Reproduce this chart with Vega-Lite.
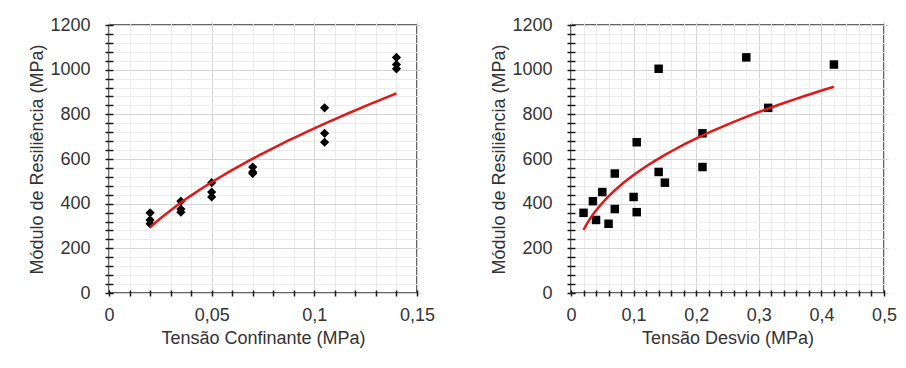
{
  "$schema": "https://vega.github.io/schema/vega-lite/v6.json",
  "padding": {"left": 28, "top": 15, "right": 5, "bottom": 5},
  "background": "white",
  "spacing": 54,
  "datasets": {
    "mr": [
      {"sigma3": 0.02, "sigmad": 0.02, "Mr": 359},
      {"sigma3": 0.02, "sigmad": 0.04, "Mr": 327},
      {"sigma3": 0.02, "sigmad": 0.06, "Mr": 310},
      {"sigma3": 0.035, "sigmad": 0.035, "Mr": 411},
      {"sigma3": 0.035, "sigmad": 0.07, "Mr": 376},
      {"sigma3": 0.035, "sigmad": 0.105, "Mr": 362},
      {"sigma3": 0.05, "sigmad": 0.05, "Mr": 452},
      {"sigma3": 0.05, "sigmad": 0.1, "Mr": 430},
      {"sigma3": 0.05, "sigmad": 0.15, "Mr": 494},
      {"sigma3": 0.07, "sigmad": 0.07, "Mr": 535},
      {"sigma3": 0.07, "sigmad": 0.14, "Mr": 542},
      {"sigma3": 0.07, "sigmad": 0.21, "Mr": 564},
      {"sigma3": 0.105, "sigmad": 0.105, "Mr": 675},
      {"sigma3": 0.105, "sigmad": 0.21, "Mr": 715},
      {"sigma3": 0.105, "sigmad": 0.315, "Mr": 829},
      {"sigma3": 0.14, "sigmad": 0.14, "Mr": 1004},
      {"sigma3": 0.14, "sigmad": 0.28, "Mr": 1055},
      {"sigma3": 0.14, "sigmad": 0.42, "Mr": 1023}
    ]
  },
  "hconcat": [
    {
      "width": 308,
      "height": 268,
      "data": {"name": "mr"},
      "layer": [
        {
          "mark": {"type": "point", "shape": "diamond", "filled": true, "color": "black", "size": 85, "opacity": 1},
          "encoding": {
            "x": {"field": "sigma3", "type": "quantitative"},
            "y": {"field": "Mr", "type": "quantitative"}
          }
        },
        {
          "transform": [{"regression": "Mr", "on": "sigma3", "method": "pow"}],
          "mark": {"type": "line", "color": "#e01818", "strokeWidth": 2.5},
          "encoding": {
            "x": {"field": "sigma3", "type": "quantitative"},
            "y": {"field": "Mr", "type": "quantitative"}
          }
        }
      ],
      "encoding": {
        "x": {
          "field": "sigma3", "type": "quantitative",
          "scale": {"domain": [0, 0.15], "nice": false},
          "axis": {
            "title": "Tensão Confinante (MPa)",
            "values": [0, 0.01, 0.02, 0.03, 0.04, 0.05, 0.06, 0.07, 0.08, 0.09, 0.1, 0.11, 0.12, 0.13, 0.14, 0.15],
            "labelExpr": "round(datum.value*100) % 5 === 0 ? replace(toString(datum.value), '.', ',') : ''",
            "gridColor": {"condition": {"test": "round(datum.value*100) % 5 === 0", "value": "#d4d4d4"}, "value": "#ececec"}
          }
        },
        "y": {
          "field": "Mr", "type": "quantitative",
          "scale": {"domain": [0, 1200], "nice": false},
          "axis": {
            "title": "Módulo de Resiliência (MPa)",
            "values": [0, 40, 80, 120, 160, 200, 240, 280, 320, 360, 400, 440, 480, 520, 560, 600, 640, 680, 720, 760, 800, 840, 880, 920, 960, 1000, 1040, 1080, 1120, 1160, 1200],
            "labelExpr": "datum.value % 200 === 0 ? toString(datum.value) : ''",
            "gridColor": {"condition": {"test": "datum.value % 200 === 0", "value": "#d4d4d4"}, "value": "#ececec"}
          }
        }
      }
    },
    {
      "width": 313,
      "height": 268,
      "data": {"name": "mr"},
      "layer": [
        {
          "mark": {"type": "point", "shape": "square", "filled": true, "color": "black", "size": 72, "opacity": 1},
          "encoding": {
            "x": {"field": "sigmad", "type": "quantitative"},
            "y": {"field": "Mr", "type": "quantitative"}
          }
        },
        {
          "transform": [{"regression": "Mr", "on": "sigmad", "method": "pow"}],
          "mark": {"type": "line", "color": "#e01818", "strokeWidth": 2.5},
          "encoding": {
            "x": {"field": "sigmad", "type": "quantitative"},
            "y": {"field": "Mr", "type": "quantitative"}
          }
        }
      ],
      "encoding": {
        "x": {
          "field": "sigmad", "type": "quantitative",
          "scale": {"domain": [0, 0.5], "nice": false},
          "axis": {
            "title": "Tensão Desvio (MPa)",
            "values": [0, 0.02, 0.04, 0.06, 0.08, 0.1, 0.12, 0.14, 0.16, 0.18, 0.2, 0.22, 0.24, 0.26, 0.28, 0.3, 0.32, 0.34, 0.36, 0.38, 0.4, 0.42, 0.44, 0.46, 0.48, 0.5],
            "labelExpr": "round(datum.value*100) % 10 === 0 ? replace(toString(datum.value), '.', ',') : ''",
            "gridColor": {"condition": {"test": "round(datum.value*100) % 10 === 0", "value": "#d4d4d4"}, "value": "#ececec"}
          }
        },
        "y": {
          "field": "Mr", "type": "quantitative",
          "scale": {"domain": [0, 1200], "nice": false},
          "axis": {
            "title": "Módulo de Resiliência (MPa)",
            "values": [0, 40, 80, 120, 160, 200, 240, 280, 320, 360, 400, 440, 480, 520, 560, 600, 640, 680, 720, 760, 800, 840, 880, 920, 960, 1000, 1040, 1080, 1120, 1160, 1200],
            "labelExpr": "datum.value % 200 === 0 ? toString(datum.value) : ''",
            "gridColor": {"condition": {"test": "datum.value % 200 === 0", "value": "#d4d4d4"}, "value": "#ececec"}
          }
        }
      }
    }
  ],
  "config": {
    "view": {"stroke": "#333333", "strokeWidth": 1.5},
    "axis": {
      "domain": false,
      "grid": true,
      "gridWidth": 1,
      "ticks": true,
      "tickColor": "#1a1a1a",
      "tickWidth": 1.5,
      "labelFont": "Liberation Sans",
      "labelFontSize": 18,
      "labelColor": "#333333",
      "titleFont": "Liberation Sans",
      "titleFontSize": 18,
      "titleFontWeight": "normal",
      "titleColor": "#333333",
      "labelOverlap": false,
      "labelFlush": false
    },
    "axisX": {"offset": -3, "tickSize": 6, "labelPadding": 10, "titlePadding": 5},
    "axisY": {"offset": -4, "tickSize": 8, "labelPadding": 15, "titlePadding": 3}
  }
}
